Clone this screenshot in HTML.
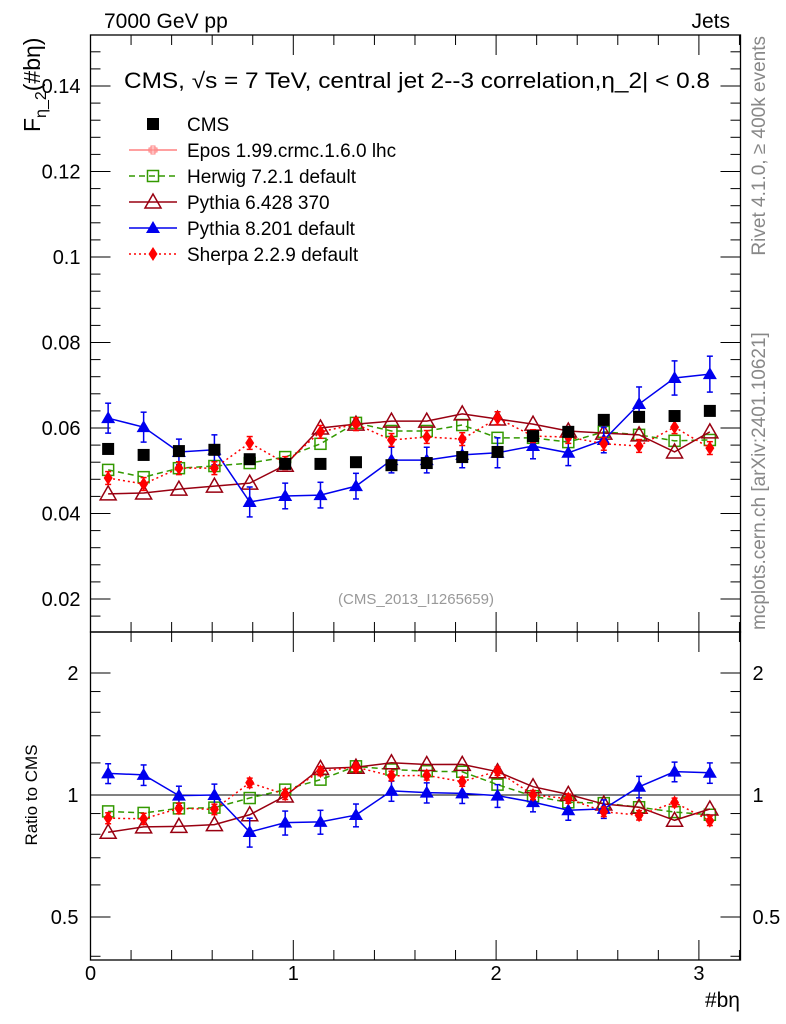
<!DOCTYPE html>
<html><head><meta charset="utf-8"><style>
body{margin:0;background:#fff;}
svg{display:block;font-family:"Liberation Sans",sans-serif;}
</style></head><body>
<svg id="c" width="786" height="1024" xmlns="http://www.w3.org/2000/svg"></svg>
<script>
const xCenters=[0.087,0.262,0.436,0.611,0.785,0.96,1.134,1.309,1.484,1.658,1.833,2.007,2.182,2.356,2.531,2.705,2.88,3.054];
const cmsVals=[0.0551,0.0537,0.0546,0.0549,0.0527,0.0516,0.0516,0.0520,0.0513,0.0518,0.0532,0.0544,0.0581,0.0591,0.0619,0.0626,0.0628,0.0640];
const herwigVals=[0.0502,0.0485,0.0506,0.0511,0.0518,0.0532,0.0563,0.0612,0.0593,0.0593,0.0607,0.0577,0.0577,0.0567,0.0591,0.0584,0.0570,0.0572];
const py6Vals=[0.0446,0.0448,0.0457,0.0464,0.0471,0.0513,0.0600,0.0609,0.0616,0.0616,0.0633,0.0621,0.0609,0.0593,0.0588,0.0584,0.0544,0.0591];
const py8Vals=[0.0623,0.0602,0.0544,0.0549,0.0427,0.0441,0.0443,0.0464,0.0525,0.0525,0.0537,0.0542,0.0558,0.0542,0.0572,0.0656,0.0717,0.0726];
const py8Err=[0.0035,0.0035,0.003,0.0035,0.0035,0.003,0.003,0.003,0.003,0.003,0.003,0.0035,0.003,0.003,0.003,0.004,0.004,0.0042];
const sherpaVals=[0.0483,0.0469,0.0506,0.0506,0.0565,0.0518,0.0591,0.0609,0.0572,0.0579,0.0574,0.0623,0.0581,0.0579,0.0563,0.0558,0.0602,0.0553];
const sherpaErr=[0.0015,0.0015,0.0015,0.0015,0.0015,0.0015,0.0015,0.0015,0.0015,0.0015,0.0015,0.0015,0.0015,0.0015,0.0015,0.0015,0.0015,0.0015];
const yTicks=[0.02,0.04,0.06,0.08,0.1,0.12,0.14];
const yTickLabels=["0.02","0.04","0.06","0.08","0.1","0.12","0.14"];
const rTicks=[0.5,1,2];
const xTicks=[0,1,2,3];

const S=document.getElementById('c');const NS='http://www.w3.org/2000/svg';
function el(t,a,p){const e=document.createElementNS(NS,t);for(const k in a)e.setAttribute(k,a[k]);(p||S).appendChild(e);return e;}
const L=90.5,R=740.5,T=35,M=632,B=960;
const X=v=>L+v*202.8;
const Y=v=>428-(v-0.06)*4275;
const RY=v=>795-Math.log2(v)*122;

let f=el('rect',{x:L,y:T,width:R-L,height:M-T,fill:'none',stroke:'#000','stroke-width':1.3});

f=el('rect',{x:L,y:M,width:R-L,height:B-M,fill:'none',stroke:'#000','stroke-width':1.3});


for(let v=0.016;v<0.152;v+=0.004){const y=Y(v);if(y<T||y>M)continue;const maj=Math.abs(v/0.02-Math.round(v/0.02))<1e-6;const l=maj?20:10;
el('line',{x1:L,x2:L+l,y1:y,y2:y,stroke:'#000'});el('line',{x1:R,x2:R-l,y1:y,y2:y,stroke:'#000'});}
yTicks.forEach((v,i)=>{const t=el('text',{x:L-10,y:Y(v)+7,'text-anchor':'end','font-size':20});t.textContent=yTickLabels[i];
});
[0.4,0.5,0.6,0.7,0.8,0.9,1,2].forEach(v=>{const y=RY(v);const maj=rTicks.includes(v);const l=maj?20:10;
el('line',{x1:L,x2:L+l,y1:y,y2:y,stroke:'#000'});el('line',{x1:R,x2:R-l,y1:y,y2:y,stroke:'#000'});});
for(let k=1.2;k<2;k+=0.2){const y=RY(k);el('line',{x1:L,x2:L+10,y1:y,y2:y,stroke:'#000'});el('line',{x1:R,x2:R-10,y1:y,y2:y,stroke:'#000'});}
rTicks.forEach(v=>{let t=el('text',{x:L-12,y:RY(v)+7,'text-anchor':'end','font-size':20});t.textContent=String(v);

t=el('text',{x:R+12,y:RY(v)+7,'font-size':20});t.textContent=String(v);
});
for(let i=0;i<=16;i++){const v=i*0.2;const x=X(v);if(x>R)continue;const maj=i%5==0;const l=maj?20:10;
el('line',{x1:x,x2:x,y1:B,y2:B-l,stroke:'#000'});el('line',{x1:x,x2:x,y1:M,y2:M-l,stroke:'#000'});
el('line',{x1:x,x2:x,y1:M,y2:M+l,stroke:'#000'});el('line',{x1:x,x2:x,y1:T,y2:T+l,stroke:'#000'});}
xTicks.forEach(v=>{const t=el('text',{x:X(v),y:980,'text-anchor':'middle','font-size':20});t.textContent=String(v);
});
el('line',{x1:L,x2:R,y1:RY(1),y2:RY(1),stroke:'#000'});

function marker(type,x,y,col,g){
 if(type=='sq'){el('rect',{x:x-6,y:y-6,width:12,height:12,fill:col},g);}
 else if(type=='osq'){el('rect',{x:x-5.5,y:y-5.5,width:11,height:11,fill:'none',stroke:col,'stroke-width':1.5},g);}
 else if(type=='otri'){el('path',{d:`M${x},${y-8}L${x+8},${y+6}L${x-8},${y+6}Z`,fill:'none',stroke:col,'stroke-width':1.5},g);}
 else if(type=='tri'){el('path',{d:`M${x},${y-7}L${x+7},${y+5}L${x-7},${y+5}Z`,fill:col},g);}
 else if(type=='dia'){el('path',{d:`M${x},${y-7}L${x+4.5},${y}L${x},${y+7}L${x-4.5},${y}Z`,fill:col},g);}
 else if(type=='cross'){el('path',{d:`M${x-4},${y-2}h8v4h-8Z M${x-2},${y-4}h4v8h-4Z`,fill:'none',stroke:col},g);}
}
const series=[
 {name:'herwig',vals:herwigVals,err:null,col:'#339900',m:'osq',dash:'6,4'},
 {name:'pythia6',vals:py6Vals,err:null,col:'#990011',m:'otri',dash:''},
 {name:'pythia8',vals:py8Vals,err:py8Err,col:'#0000ee',m:'tri',dash:''},
 {name:'sherpa',vals:sherpaVals,err:sherpaErr,col:'#ff0000',m:'dia',dash:'2,3'}];
series.forEach(s=>{
 ['main','ratio'].forEach(panel=>{
  const g=el('g',{});
  
  const yf=(v,i)=>panel=='main'?Y(v):RY(v/cmsVals[i]);
  const pts=s.vals.map((v,i)=>X(xCenters[i])+','+yf(v,i)).join(' ');
  el('polyline',{points:pts,fill:'none',stroke:s.col,'stroke-width':1.5,'stroke-dasharray':s.dash},g);
  s.vals.forEach((v,i)=>{const x=X(xCenters[i]);
   if(s.err){const e=s.err[i];const y1=yf(v+e,i),y2=yf(v-e,i);
    el('line',{x1:x,x2:x,y1:y1,y2:y2,stroke:s.col,'stroke-width':1.5},g);
    el('line',{x1:x-3,x2:x+3,y1:y1,y2:y1,stroke:s.col,'stroke-width':1.5},g);
    el('line',{x1:x-3,x2:x+3,y1:y2,y2:y2,stroke:s.col,'stroke-width':1.5},g);}
   marker(s.m,x,yf(v,i),s.col,g);});
 });
});
const gc=el('g',{});
cmsVals.forEach((v,i)=>marker('sq',X(xCenters[i]),Y(v),'#000',gc));

const leg=[['CMS','sq','#000',null],['Epos 1.99.crmc.1.6.0 lhc','cross','#ff8080',''],['Herwig 7.2.1 default','osq','#339900','6,4'],
 ['Pythia 6.428 370','otri','#990011',''],['Pythia 8.201 default','tri','#0000ee',''],['Sherpa 2.2.9 default','dia','#ff0000','2,3']];
leg.forEach((l,i)=>{const y=124+i*26;const g=el('g',{});
 
 if(l[3]!==null)el('line',{x1:129,x2:177,y1:y,y2:y,stroke:l[2],'stroke-width':1.5,'stroke-dasharray':l[3]},g);
 marker(l[1],153,y,l[2],g);
 const t=el('text',{x:187,y:y+7,'font-size':19},g);t.textContent=l[0];});

function txt(s,a,name){const t=el('text',a);t.textContent=s;return t;}
txt('7000 GeV pp',{x:104,y:28,'font-size':21},'header-energy');
txt('Jets',{x:730,y:28,'font-size':21,'text-anchor':'end'},'header-process');
txt('CMS, √s = 7 TeV, central jet 2--3 correlation,η_2| < 0.8',{x:124,y:88,'font-size':22,textLength:586,lengthAdjust:'spacingAndGlyphs'},'plot-title');
txt('(CMS_2013_I1265659)',{x:416,y:604,'font-size':15,fill:'#999','text-anchor':'middle'},'analysis-id');
txt('#bη',{x:740,y:1007,'font-size':21,'text-anchor':'end'},'x-axis-title');
txt('F',{x:0,y:0,'font-size':23,transform:'translate(40,132) rotate(-90)'},'y-axis-title').innerHTML='F<tspan font-size="16" dy="6">η_2</tspan><tspan dy="-6">(#bη)</tspan>';
txt('Ratio to CMS',{x:0,y:0,'font-size':17,'text-anchor':'middle',transform:'translate(37,795) rotate(-90)'},'ratio-axis-title');
txt('Rivet 4.1.0, ≥ 400k events',{x:0,y:0,'font-size':19,fill:'#888','text-anchor':'end',transform:'translate(765,36) rotate(-90)'},'rivet-label');
txt('mcplots.cern.ch [arXiv:2401.10621]',{x:0,y:0,'font-size':19,fill:'#888','text-anchor':'start',transform:'translate(765,630) rotate(-90)'},'mcplots-label');
</script>
</body></html>
